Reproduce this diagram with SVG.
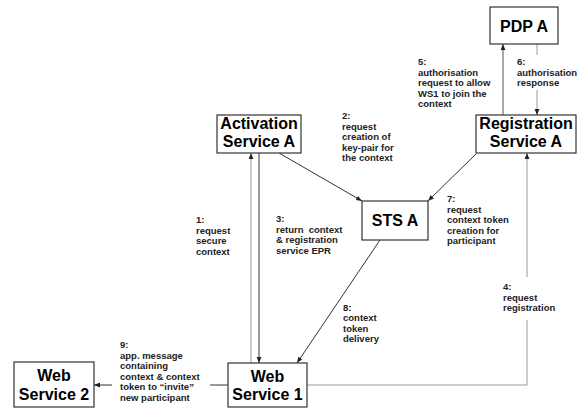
<svg xmlns="http://www.w3.org/2000/svg" width="579" height="409" viewBox="0 0 579 409">
<style>
.box{fill:#fff;stroke:#333;stroke-width:1.2}
.bt{font-family:"Liberation Sans",Arial,sans-serif;font-weight:bold;font-size:16px;fill:#000;text-anchor:middle}
.lt{font-family:"Liberation Sans",Arial,sans-serif;font-weight:bold;font-size:9.5px;fill:#222}
.dk{fill:none;stroke:#333;stroke-width:1;marker-end:url(#ad)}
.gr{fill:none;stroke:#999;stroke-width:1;marker-end:url(#ag)}
.bg{fill:#fff}
</style>
<defs>
<marker id="ad" viewBox="0 0 10 10" refX="10" refY="5" markerWidth="6" markerHeight="6" markerUnits="userSpaceOnUse" orient="auto"><path d="M0,1 L10,5 L0,9 z" fill="#222"/></marker>
<marker id="ag" viewBox="0 0 10 10" refX="10" refY="5" markerWidth="6" markerHeight="6" markerUnits="userSpaceOnUse" orient="auto"><path d="M0,1 L10,5 L0,9 z" fill="#222"/></marker>
</defs>
<rect width="579" height="409" fill="#fff"/>
<g id="connectors">
<line id="c1" class="gr" x1="251" y1="363" x2="251" y2="153"/>
<line id="c2" class="dk" x1="279" y1="153" x2="362" y2="201"/>
<line id="c3" class="dk" x1="259" y1="153" x2="259" y2="363"/>
<polyline id="c4" class="gr" points="307,385 527,385 527,153"/>
<line id="c5" style="fill:none;stroke:#555;stroke-width:1;marker-end:url(#ad)" x1="503" y1="115" x2="503" y2="44"/>
<line id="c6" class="gr" x1="537" y1="44" x2="537" y2="115"/>
<line id="c7" class="dk" x1="476" y1="154" x2="428" y2="201"/>
<line id="c8" class="dk" x1="380" y1="240" x2="297" y2="363"/>
<line id="c9" class="dk" x1="228" y1="385" x2="94" y2="385"/>
</g>
<g id="labels">
<g id="l1"><text class="lt" x="196"><tspan x="196" y="223">1:</tspan><tspan x="196" y="233.5">request</tspan><tspan x="196" y="244">secure</tspan><tspan x="196" y="254.5">context</tspan></text></g>
<g id="l2"><text class="lt"><tspan x="342" y="119">2:</tspan><tspan x="342" y="129.5">request</tspan><tspan x="342" y="140">creation of</tspan><tspan x="342" y="150.5">key-pair for</tspan><tspan x="342" y="161">the context</tspan></text></g>
<g id="l3"><text class="lt" xml:space="preserve"><tspan x="276" y="222">3:</tspan><tspan x="276" y="232.5">return  context</tspan><tspan x="276" y="243">&amp; registration</tspan><tspan x="276" y="253.5">service EPR</tspan></text></g>
<g id="l4"><rect class="bg" x="500" y="277" width="62" height="43"/><text class="lt"><tspan x="503" y="290">4:</tspan><tspan x="503" y="300.5">request</tspan><tspan x="503" y="311">registration</tspan></text></g>
<g id="l5"><text class="lt"><tspan x="418" y="65">5:</tspan><tspan x="418" y="75.5">authorisation</tspan><tspan x="418" y="86">request to allow</tspan><tspan x="418" y="96.5">WS1 to join the</tspan><tspan x="418" y="107">context</tspan></text></g>
<g id="l6"><rect class="bg" x="515" y="55" width="64" height="35"/><text class="lt"><tspan x="517" y="65">6:</tspan><tspan x="517" y="75.5">authorisation</tspan><tspan x="517" y="86">response</tspan></text></g>
<g id="l7"><text class="lt"><tspan x="447" y="202">7:</tspan><tspan x="447" y="212.5">request</tspan><tspan x="447" y="223">context token</tspan><tspan x="447" y="233.5">creation for</tspan><tspan x="447" y="244">participant</tspan></text></g>
<g id="l8"><text class="lt"><tspan x="343" y="310.5">8:</tspan><tspan x="343" y="321">context</tspan><tspan x="343" y="331.5">token</tspan><tspan x="343" y="342">delivery</tspan></text></g>
<g id="l9"><rect class="bg" x="112" y="339" width="98" height="66"/><text class="lt"><tspan x="120" y="348">9:</tspan><tspan x="120" y="358.5">app. message</tspan><tspan x="120" y="369">containing</tspan><tspan x="120" y="379.5">context &amp; context</tspan><tspan x="120" y="390">token to “invite”</tspan><tspan x="120" y="400.5">new participant</tspan></text></g>
</g>
<g id="pdp"><rect class="box" x="490" y="7" width="68" height="37"/><text class="bt" x="524" y="32">PDP A</text></g>
<g id="registration"><rect class="box" x="476" y="115" width="100" height="38"/><text class="bt"><tspan x="526" y="129">Registration</tspan><tspan x="526" y="147">Service A</tspan></text></g>
<g id="activation"><rect class="box" x="217" y="115" width="84" height="38"/><text class="bt"><tspan x="259" y="129">Activation</tspan><tspan x="259" y="147">Service A</tspan></text></g>
<g id="sts"><rect class="box" x="362" y="201" width="66" height="39"/><text class="bt" x="395" y="226">STS A</text></g>
<g id="ws1"><rect class="box" x="228" y="363" width="79" height="44"/><text class="bt"><tspan x="267.5" y="382">Web</tspan><tspan x="267.5" y="400">Service 1</tspan></text></g>
<g id="ws2"><rect class="box" x="14" y="362" width="80" height="45"/><text class="bt"><tspan x="54" y="381">Web</tspan><tspan x="54" y="400">Service 2</tspan></text></g>
</svg>
